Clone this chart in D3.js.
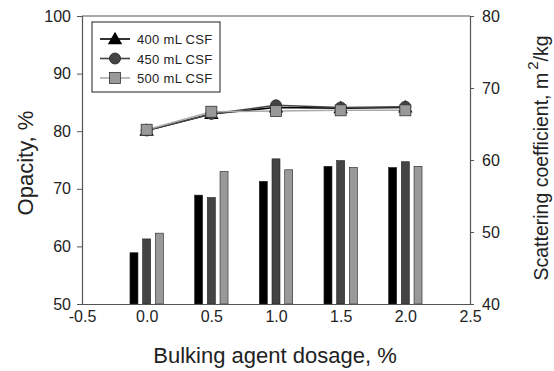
<!DOCTYPE html>
<html>
<head>
<meta charset="utf-8">
<script src="https://cdn.jsdelivr.net/npm/d3@7"></script>
<style>
  body { margin: 0; background: #fff; }
  svg text { font-family: "Liberation Sans", Arial, sans-serif; fill: #222; }
</style>
</head>
<body>
<script>
// dosage levels (x)
const dosages = [0.0, 0.5, 1.0, 1.5, 2.0]
const seriesNames = ['400 mL CSF', '450 mL CSF', '500 mL CSF']

// opacity (%), bars on left axis
const opacity400 = [58.9, 68.9, 71.3, 73.9, 73.7]
const opacity450 = [61.3, 68.5, 75.2, 74.9, 74.7]
const opacity500 = [62.3, 73.0, 73.3, 73.7, 73.9]

// scattering coefficient (m2/kg), lines on right axis
const scatter400 = [64.1, 66.4, 67.3, 67.2, 67.3]
const scatter450 = [64.1, 66.4, 67.6, 67.3, 67.4]
const scatter500 = [64.2, 66.7, 66.8, 66.9, 66.9]

const xTicks = [-0.5, 0.0, 0.5, 1.0, 1.5, 2.0, 2.5]
const yLeftTicks = [50, 60, 70, 80, 90, 100]
const yRightTicks = [40, 50, 60, 70, 80]

const width = 554, height = 371
const margin = {top: 16, right: 84, bottom: 67, left: 82}

const svg = d3.select('body').append('svg')
  .attr('width', width)
  .attr('height', height)

const x = d3.scaleLinear().domain([-0.5, 2.5]).range([margin.left, width - margin.right])
const yL = d3.scaleLinear().domain([50, 100]).range([height - margin.bottom, margin.top])
const yR = d3.scaleLinear().domain([40, 80]).range([height - margin.bottom, margin.top])

const barColors = ['#000000', '#444444', '#999999']
const barW = 8, barStep = 12.7
const barSets = [opacity400, opacity450, opacity500]

// bars
barSets.forEach((vals, i) => {
  svg.append('g').selectAll('rect')
    .data(vals)
    .enter()
    .append('rect')
    .attr('x', (d, j) => x(dosages[j]) + (i - 1) * barStep - barW / 2)
    .attr('y', d => yL(d))
    .attr('width', barW)
    .attr('height', d => yL(50) - yL(d))
    .attr('fill', barColors[i])
    .attr('stroke', '#222')
    .attr('stroke-width', 0.6)
})

// lines + markers
const lineSets = [scatter400, scatter450, scatter500]
const lineColors = ['#000000', '#444444', '#aaaaaa']
const markerFill = ['#000000', '#444444', '#999999']

let line = d3.line()
  .x((d, j) => x(dosages[j]))
  .y(d => yR(d))

lineSets.forEach((vals, i) => {
  svg.append('path')
    .datum(vals)
    .attr('d', line)
    .attr('fill', 'none')
    .attr('stroke', lineColors[i])
    .attr('stroke-width', 1.6)
})

function drawMarker(g, i, cx, cy) {
  if (i === 0) {
    g.append('path')
      .attr('d', d3.symbol(d3.symbolTriangle, 90)())
      .attr('transform', `translate(${cx},${cy + 1})`)
      .attr('fill', markerFill[i])
  } else if (i === 1) {
    g.append('circle')
      .attr('cx', cx).attr('cy', cy).attr('r', 5.5)
      .attr('fill', markerFill[i]).attr('stroke', '#222').attr('stroke-width', 0.8)
  } else {
    g.append('rect')
      .attr('x', cx - 5.5).attr('y', cy - 5.5).attr('width', 11).attr('height', 11)
      .attr('fill', markerFill[i]).attr('stroke', '#333').attr('stroke-width', 0.8)
  }
}

lineSets.forEach((vals, i) => {
  let g = svg.append('g')
  vals.forEach((v, j) => drawMarker(g, i, x(dosages[j]), yR(v)))
})

// frame
svg.append('line')
  .attr('x1', x(-0.5)).attr('x2', x(2.5))
  .attr('y1', margin.top).attr('y2', margin.top)
  .attr('stroke', '#555').attr('stroke-width', 1.2)

function styleAxis(g) {
  g.selectAll('path').attr('stroke', '#555').attr('stroke-width', 1.2)
  g.selectAll('line').attr('stroke', '#555')
  g.selectAll('text').attr('font-size', 16).attr('fill', '#444')
}

const fmt = d => d3.format('.1f')(d).replace('\u2212', '-')

svg.append('g')
  .attr('transform', `translate(0,${height - margin.bottom})`)
  .call(d3.axisBottom(x).tickValues(xTicks).tickFormat(fmt).tickSizeOuter(0).tickSize(0).tickPadding(7))
  .call(styleAxis)

svg.append('g')
  .attr('transform', `translate(${margin.left},0)`)
  .call(d3.axisLeft(yL).tickValues(yLeftTicks).tickSizeOuter(0).tickSize(5).tickPadding(6))
  .call(styleAxis)

svg.append('g')
  .attr('transform', `translate(${width - margin.right},0)`)
  .call(d3.axisRight(yR).tickValues(yRightTicks).tickSizeOuter(0).tickSize(4).tickPadding(8))
  .call(styleAxis)

// axis titles
svg.append('text')
  .attr('x', 275).attr('y', 363)
  .attr('text-anchor', 'middle')
  .attr('font-size', 22)
  .text('Bulking agent dosage, %')

svg.append('text')
  .attr('transform', 'translate(33,163) rotate(-90)')
  .attr('text-anchor', 'middle')
  .attr('font-size', 22)
  .text('Opacity, %')

let rt = svg.append('text')
  .attr('transform', 'translate(548,158) rotate(-90)')
  .attr('text-anchor', 'middle')
  .attr('font-size', 19.5)
rt.append('tspan').text('Scattering coefficient, m')
rt.append('tspan').attr('dy', -10).attr('font-size', 15).attr('dx', 3).text('2')
rt.append('tspan').attr('dy', 10).text('/kg')

// legend
let legend = svg.append('g')
legend.append('rect')
  .attr('x', 92).attr('y', 22).attr('width', 128).attr('height', 70)
  .attr('fill', '#fff').attr('stroke', '#444').attr('stroke-width', 1.2)

seriesNames.forEach((name, i) => {
  let ly = 39 + i * 19.5
  legend.append('line')
    .attr('x1', 100).attr('x2', 130).attr('y1', ly).attr('y2', ly)
    .attr('stroke', lineColors[i]).attr('stroke-width', 1.6)
  drawMarker(legend, i, 115, ly)
  legend.append('text')
    .attr('x', 137).attr('y', ly + 5)
    .attr('font-size', 13)
    .attr('letter-spacing', 0.3)
    .text(name)
})
</script>
</body>
</html>
